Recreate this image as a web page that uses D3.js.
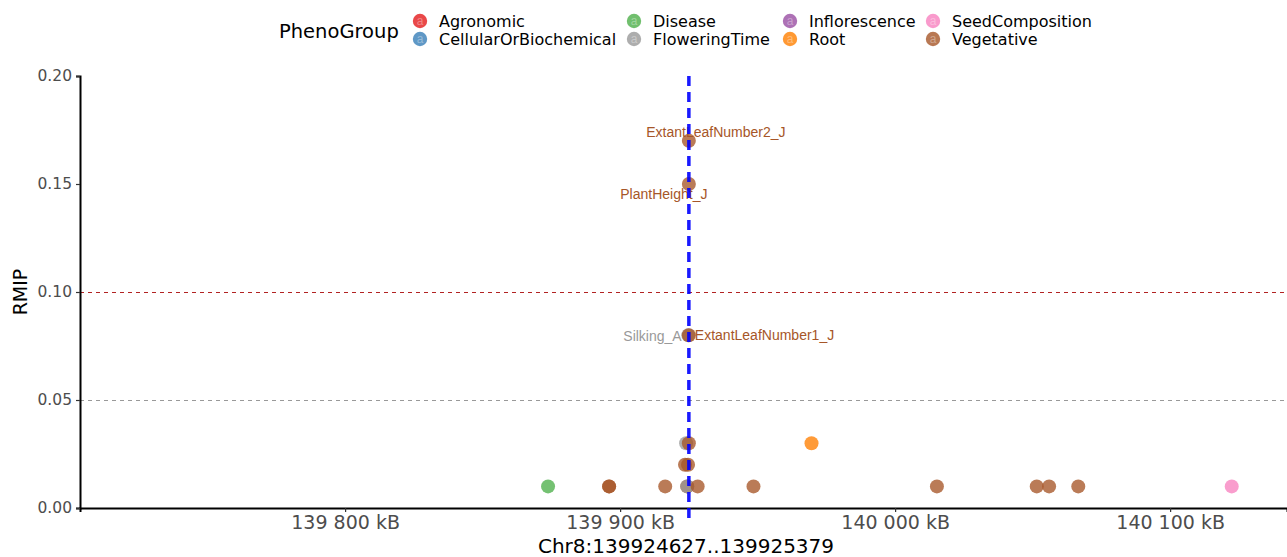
<!DOCTYPE html>
<html>
<head>
<meta charset="utf-8">
<script src="https://cdn.jsdelivr.net/npm/d3@7"></script>
<style>
  html, body { margin: 0; padding: 0; background: #fff; }
  svg { display: block; font-family: "DejaVu Sans", sans-serif; }
</style>
</head>
<body>
<svg id="chart" width="1287" height="557"></svg>
<script>
// Region of interest on chromosome 8 (bp)
const regionChrom = "Chr8";
const regionStart = 139924627;
const regionEnd = 139925379;

// Phenotype groups in legend order, with their colours
const groups = ["Agronomic", "CellularOrBiochemical", "Disease", "FloweringTime",
                "Inflorescence", "Root", "SeedComposition", "Vegetative"];
const groupColors = ["#E41A1C", "#377EB8", "#4DAF4A", "#999999",
                     "#984EA3", "#FF7F00", "#F781BF", "#A65628"];

// Associations: position (kB), RMIP, phenotype group, trait label
const posKb = [139873.8, 139896.0, 139896.0, 139916.4, 139924.4, 139924.4, 139928.2,
               139948.5, 140015.2, 140051.5, 140056.0, 140066.6, 140122.4,
               139969.6, 139924.0, 139925.0, 139923.6, 139924.7,
               139924.8, 139925.0, 139925.0, 139925.0];
const rmip  = [0.01, 0.01, 0.01, 0.01, 0.01, 0.01, 0.01,
               0.01, 0.01, 0.01, 0.01, 0.01, 0.01,
               0.03, 0.03, 0.03, 0.02, 0.02,
               0.08, 0.08, 0.15, 0.17];
const group = ["Disease", "Vegetative", "Vegetative", "Vegetative", "Vegetative", "FloweringTime", "Vegetative",
               "Vegetative", "Vegetative", "Vegetative", "Vegetative", "Vegetative", "SeedComposition",
               "Root", "FloweringTime", "Vegetative", "Vegetative", "Vegetative",
               "FloweringTime", "Vegetative", "Vegetative", "Vegetative"];
const trait = ["", "", "", "", "", "", "",
               "", "", "", "", "", "",
               "", "", "", "", "",
               "Silking_AC", "ExtantLeafNumber1_J", "PlantHeight_J", "ExtantLeafNumber2_J"];

// Axis ticks and significance thresholds
const xTicksKb = [139800, 139900, 140000, 140100];
const yTicks = [0.00, 0.05, 0.10, 0.15, 0.20];
const thresholds = [0.05, 0.10];
const thresholdColors = ["#999999", "#B22222"];

// Label placement relative to each labelled point (repelled text)
const labelNudge = {
  "ExtantLeafNumber2_J": {dx: 27, dy: -9, anchor: "middle"},
  "PlantHeight_J": {dx: -25, dy: 10, anchor: "middle"},
  "ExtantLeafNumber1_J": {dx: 6, dy: 0, anchor: "start"},
  "Silking_AC": {dx: -65, dy: 1, anchor: "start"}
};

const svg = d3.select("#chart");
const margin = {left: 80, right: 0, top: 76, bottom: 49};
const W = 1287, H = 557;

const x = d3.scaleLinear().domain([139703.6, 140142.5]).range([margin.left, W - margin.right]);
const y = d3.scaleLinear().domain([0, 0.20]).range([H - margin.bottom, margin.top]);
const color = d3.scaleOrdinal().domain(groups).range(groupColors);

const points = posKb.map((p, i) => ({pos: p, rmip: rmip[i], group: group[i], trait: trait[i]}));

// Threshold lines
svg.append("g").selectAll("line").data(thresholds).join("line")
  .attr("x1", margin.left).attr("x2", W)
  .attr("y1", d => y(d) + 0.5).attr("y2", d => y(d) + 0.5)
  .attr("stroke", (d, i) => thresholdColors[i])
  .attr("stroke-width", 1)
  .attr("shape-rendering", "crispEdges")
  .attr("stroke-dasharray", "4,4");

// Axes
const fmtSpace = d3.formatLocale({decimal: ".", thousands: " ", grouping: [3]}).format(",");

const xAxis = svg.append("g")
  .attr("transform", `translate(0,${y(0)})`)
  .call(d3.axisBottom(x).tickValues(xTicksKb).tickSize(4).tickPadding(4)
        .tickFormat(d => fmtSpace(d) + " kB"));
xAxis.select(".domain").attr("stroke", "#000").attr("stroke-width", 2);
xAxis.selectAll(".tick line").attr("stroke", "#333").attr("stroke-width", 1.2);
xAxis.selectAll(".tick text").attr("fill", "#4D4D4D")
  .style("font-size", "19px").style("font-family", "DejaVu Sans");

const yAxis = svg.append("g")
  .attr("transform", `translate(${margin.left},0)`)
  .call(d3.axisLeft(y).tickValues(yTicks).tickSize(4).tickPadding(4)
        .tickFormat(d3.format(".2f")));
yAxis.select(".domain").attr("stroke", "#000").attr("stroke-width", 2);
yAxis.selectAll(".tick line").attr("stroke", "#333").attr("stroke-width", 1.2);
yAxis.selectAll(".tick text").attr("fill", "#4D4D4D")
  .style("font-size", "15.5px").style("font-family", "DejaVu Sans");

// Axis titles
svg.append("text")
  .attr("x", 686).attr("y", 553)
  .attr("text-anchor", "middle")
  .style("font-size", "20px")
  .text(`${regionChrom}:${regionStart}..${regionEnd}`);
svg.append("text")
  .attr("transform", `translate(27,${y(0.10)}) rotate(-90)`)
  .attr("text-anchor", "middle")
  .style("font-size", "19px")
  .text("RMIP");

// Trait labels
const labelled = points.filter(d => d.trait);
svg.append("g").selectAll("text").data(labelled).join("text")
  .attr("x", d => x(d.pos) + labelNudge[d.trait].dx)
  .attr("y", d => y(d.rmip) + labelNudge[d.trait].dy)
  .attr("dy", "0.35em")
  .attr("text-anchor", d => labelNudge[d.trait].anchor)
  .attr("fill", d => color(d.group))
  .style("font-family", "Liberation Sans, Arial, sans-serif")
  .style("font-size", "14px")
  .text(d => d.trait);

// Points
svg.append("g").selectAll("circle").data(points).join("circle")
  .attr("cx", d => x(d.pos))
  .attr("cy", d => y(d.rmip))
  .attr("r", 7)
  .attr("fill", d => color(d.group))
  .attr("fill-opacity", 0.78);

// Region midpoint marker
const midKb = (regionStart + regionEnd) / 2 / 1000;
svg.append("line")
  .attr("x1", x(midKb)).attr("x2", x(midKb))
  .attr("y1", margin.top).attr("y2", y(0) + 12)
  .attr("stroke", "#0000FF")
  .attr("stroke-opacity", 0.9)
  .attr("stroke-width", 3.5)
  .attr("stroke-dasharray", "10,6");

// Legend
const legend = svg.append("g");
legend.append("text")
  .attr("x", 279).attr("y", 31).attr("dy", "0.35em")
  .style("font-size", "19.5px")
  .text("PhenoGroup");
const colX = [420, 634, 790, 933];
const rowY = [21, 39];
const items = legend.selectAll("g.item").data(groups).join("g")
  .attr("class", "item")
  .attr("transform", (d, i) => `translate(${colX[Math.floor(i / 2)]},${rowY[i % 2]})`);
items.append("circle").attr("r", 7.2).attr("fill", d => color(d)).attr("fill-opacity", 0.8);
items.append("text")
  .attr("text-anchor", "middle").attr("dy", "0.35em")
  .style("font-family", "Liberation Sans, Arial, sans-serif")
  .style("font-size", "12px")
  .attr("fill", "#fff").attr("fill-opacity", 0.35)
  .text("a");
items.append("text")
  .attr("x", 19).attr("dy", "0.35em")
  .style("font-size", "16px")
  .attr("fill", "#000")
  .text(d => d);
</script>
</body>
</html>
